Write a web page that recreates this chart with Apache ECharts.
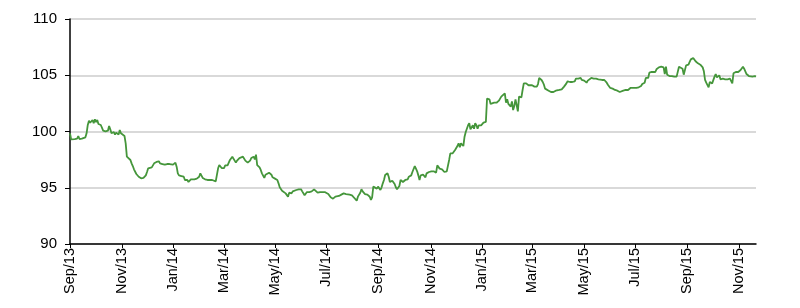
<!DOCTYPE html>
<html>
<head>
<meta charset="utf-8">
<script src="https://cdn.jsdelivr.net/npm/echarts@6/dist/echarts.min.js"></script>
<style>
html,body{margin:0;padding:0;background:#fff;}
#chart{width:800px;height:308px;}
</style>
</head>
<body>
<div id="chart"></div>
<script>
// business-day index from 2 Sep 2013
const dayIdx = [
0,1,2,4,5,6,7,8,10,11,13,14,15,16,17,19,20,21,22,23,24,25,26,28,29,30,31,32,33,34,35,37,38,39,40,41,42,43,44,46,47,48,49,51,52,53,54,55,56,57,58,60,61,62,63,64,65,66,67,69,70,71,72,73,74,75,76,78,79,80,81,82,83,84,
85,87,88,89,90,91,92,93,94,96,97,98,99,100,101,102,103,105,106,107,108,109,110,111,112,114,115,116,117,118,119,120,121,123,124,125,126,127,128,129,130,131,132,133,134,135,137,138,139,140,141,142,143,144,146,147,148,149,150,151,152,153,155,156,157,158,160,161,162,163,164,165,166,168,169,
170,171,172,173,174,175,176,177,178,179,180,182,183,184,185,186,187,188,189,191,192,193,194,195,196,197,198,200,201,202,203,204,205,206,207,209,210,211,212,213,214,215,216,218,219,220,221,222,223,224,225,227,228,229,230,231,232,233,234,236,237,238,239,240,241,242,243,245,246,247,248,249,250,251,252,
253,254,255,256,257,259,260,261,262,263,264,265,266,268,269,270,272,273,274,275,276,277,278,279,281,282,283,284,285,286,287,288,289,291,292,293,294,295,296,297,298,300,301,302,303,304,305,306,307,309,310,311,312,313,314,315,316,318,319,320,321,322,323,324,325,327,328,329,330,331,332,333,334,336,337,
338,340,341,342,343,344,345,346,347,349,350,351,352,353,354,355,356,358,359,360,361,362,363,364,365,367,368,369,370,372,373,374,375,376,377,378,379,381,382,383,384,385,386,387,388,390,391,392,393,394,395,396,397,398,399,400,401,402,404,405,406,407,408,409,410,411,413,414,415,416,417,418,419,420,422,
423,424,425,426,427,428,429,431,432,433,434,435,436,437,438,440,441,442,443,444,445,446,447,449,450,451,452,453,454,455,456,458,459,460,461,462,463,464,465,467,468,469,470,471,472,473,474,476,477,478,479,480,481,482,483,485,486,487,488,489,490,491,492,494,495,496,497,498,499,500,501,502,503,504,505,506,
507,508,509,510,512,513,514,515,517,518,519,520,521,522,523,524,525,526,527,528,530,531,532,533,534,535,536,537,539,540,541,542,543,544,545,546,548,549,550,551,552,553,554,555,557,558,559,560,561,562,563,564,566,567,568,569,570,571,572,573,574,576,577,578,579
];
const level = [
99.84,99.30,99.39,99.33,99.42,99.36,99.60,99.33,99.36,99.24,99.48,99.84,100.58,100.96,100.78,101.02,100.73,101.08,100.84,101.02,100.67,100.67,100.58,100.07,99.95,100.01,99.92,100.07,100.49,100.19,99.84,99.95,99.72,99.90,99.78,99.72,100.13,99.84,99.90,99.60,98.95,97.76,97.70,97.47,97.17,96.93,96.64,96.70,96.22,96.13,95.98,95.84,95.81,95.87,95.98,96.10,96.40,96.73,96.79,96.81,96.93,97.17,97.23,97.29,97.23,97.35,97.17,97.11,97.17,97.05,96.99,97.11,96.99,97.11,
97.08,97.05,97.17,97.23,96.87,96.28,96.10,96.16,96.04,95.98,95.69,95.63,95.69,95.51,95.39,95.75,95.69,95.75,95.69,95.81,95.75,95.98,96.28,96.13,95.87,95.75,95.87,95.69,95.75,95.69,95.81,95.69,95.75,95.57,95.51,96.73,97.02,96.87,96.75,96.87,96.75,96.99,97.11,96.99,97.11,97.47,97.76,97.70,97.41,97.23,97.41,97.53,97.64,97.53,97.76,97.88,97.41,97.53,97.23,97.11,97.41,97.64,97.76,97.53,97.94,97.02,96.81,96.58,96.28,96.28,95.87,96.16,96.28,96.34,96.28,
96.16,95.93,95.99,95.81,95.87,95.69,95.39,95.04,94.92,94.74,94.62,94.50,94.39,94.21,94.56,94.62,94.50,94.68,94.62,94.80,94.74,94.86,94.92,94.86,94.68,94.56,94.33,94.62,94.50,94.62,94.56,94.68,94.62,94.86,94.92,94.56,94.68,94.62,94.56,94.62,94.56,94.62,94.56,94.44,94.39,94.15,94.03,94.03,94.03,94.21,94.33,94.27,94.44,94.39,94.56,94.50,94.56,94.44,94.50,94.39,94.33,94.33,94.21,94.09,94.03,93.85,94.21,94.56,94.86,94.68,94.62,94.44,94.50,94.39,94.27,
94.20,93.91,94.15,95.10,95.04,94.92,95.10,94.98,94.80,95.04,95.39,95.69,96.13,96.28,95.98,95.51,95.63,95.51,95.33,95.04,94.86,94.98,95.16,95.69,95.51,95.57,95.69,95.81,95.75,95.98,95.87,96.10,96.40,96.93,96.70,96.46,96.10,95.69,96.10,96.04,96.16,95.93,96.28,96.34,96.40,96.34,96.46,96.40,96.46,96.34,96.99,96.93,96.70,96.58,96.64,96.58,96.40,96.46,96.58,97.47,98.06,98.12,98.06,98.18,98.36,98.71,98.95,98.59,98.95,99.07,98.71,99.54,99.95,100.55,100.73,
100.19,100.55,100.25,100.73,100.55,100.25,100.55,100.67,100.55,100.79,100.79,100.85,102.92,102.80,102.86,102.45,102.51,102.56,102.62,102.56,102.62,102.74,102.92,103.10,103.27,103.39,102.56,102.86,102.45,102.21,102.68,101.91,102.27,102.86,102.33,101.79,103.10,103.04,103.69,104.28,104.40,104.28,104.16,104.11,104.05,104.11,104.16,103.99,104.11,103.99,104.22,104.76,104.82,104.58,104.40,104.16,103.81,103.69,103.63,103.57,103.51,103.39,103.51,103.45,103.63,103.57,103.69,103.69,103.75,103.81,103.99,104.11,104.28,104.46,104.40,
104.28,104.40,104.52,104.46,104.70,104.81,104.70,104.76,104.58,104.64,104.52,104.46,104.34,104.52,104.64,104.76,104.93,104.70,104.81,104.70,104.81,104.64,104.76,104.58,104.64,104.58,104.46,104.34,104.16,103.99,103.87,103.81,103.75,103.69,103.75,103.63,103.63,103.51,103.45,103.63,103.57,103.69,103.75,103.69,103.81,103.87,103.81,103.87,103.75,103.87,103.75,103.93,103.99,104.04,104.22,104.34,104.76,104.88,104.76,105.23,105.35,105.29,105.41,105.29,105.53,105.47,105.70,105.58,105.76,105.82,105.70,105.11,105.76,105.05,104.88,104.93,
104.81,104.93,104.81,104.88,104.88,104.93,105.76,105.64,105.58,105.05,104.99,105.88,106.00,105.94,106.18,106.41,106.53,106.53,106.47,106.24,106.06,106.18,105.94,105.94,105.70,105.35,104.58,104.34,103.93,104.40,104.46,104.28,104.40,104.88,105.11,104.81,104.99,104.64,104.81,104.70,104.76,104.64,104.70,104.64,104.70,104.58,104.28,105.17,105.17,105.29,105.41,105.29,105.47,105.64,105.76,105.58,105.41,105.11,105.05,104.93,104.99,104.88,104.88,104.93,104.88
];
const tickIdx = [0,44,87,130,173,216,260,305,348,390,434,477,521,565];
const tickLabels = ['Sep/13','Nov/13','Jan/14','Mar/14','May/14','Jul/14','Sep/14','Nov/14','Jan/15','Mar/15','May/15','Jul/15','Sep/15','Nov/15'];
const lastIdx = 579;

const seriesData = dayIdx.map((d, i) => [d, level[i]]);
const labelOf = {};
tickIdx.forEach((d, i) => { labelOf[d] = tickLabels[i]; });

const chart = echarts.init(document.getElementById('chart'), null, {renderer: 'canvas'});
chart.setOption({
  animation: false,
  backgroundColor: '#ffffff',
  grid: {left: 70, right: 44, top: 19, bottom: 64},
  xAxis: {
    type: 'value',
    min: 0,
    max: lastIdx,
    axisLine: {show: true, onZero: false, lineStyle: {color: '#000', width: 1.5}},
    axisTick: {show: true, customValues: tickIdx, length: 4, lineStyle: {color: '#000', width: 1}},
    axisLabel: {
      customValues: tickIdx,
      rotate: 90,
      margin: 4,
      fontFamily: 'Liberation Sans, Arial, sans-serif',
      fontSize: 14.5,
      color: '#000',
      formatter: v => labelOf[Math.round(v)] || ''
    },
    splitLine: {show: false}
  },
  yAxis: {
    type: 'value',
    min: 90,
    max: 110,
    interval: 5,
    axisLine: {show: true, lineStyle: {color: '#000', width: 1.5}},
    axisTick: {show: true, length: 5, lineStyle: {color: '#000', width: 1}},
    axisLabel: {
      margin: 13,
      fontFamily: 'Liberation Sans, Arial, sans-serif',
      fontSize: 15,
      color: '#000'
    },
    splitLine: {show: true, lineStyle: {color: '#cccccc', width: 1.5}}
  },
  series: [{
    type: 'line',
    data: seriesData,
    showSymbol: false,
    symbol: 'none',
    lineStyle: {color: '#45963b', width: 1.8},
    z: 3
  }]
});
</script>
</body>
</html>
